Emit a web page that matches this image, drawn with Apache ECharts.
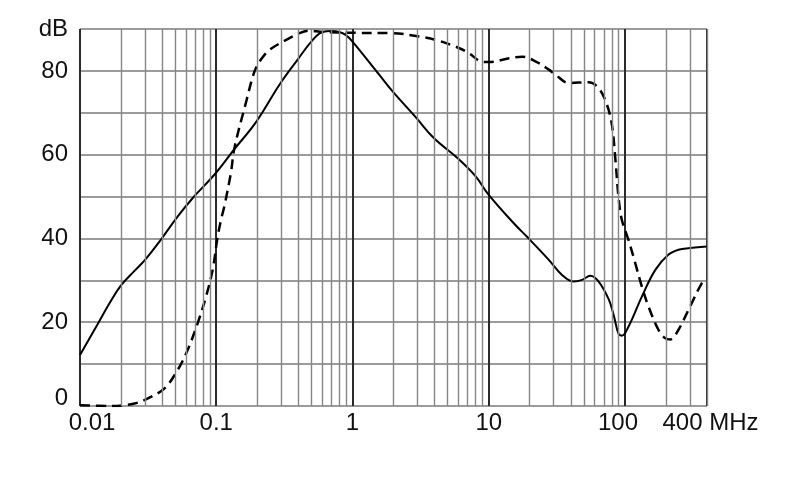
<!DOCTYPE html>
<html>
<head>
<meta charset="utf-8">
<script src="https://cdn.jsdelivr.net/npm/echarts@6/dist/echarts.min.js"></script>
<style>
html,body{margin:0;padding:0;background:#fff;}
#chart{width:790px;height:499px;}
</style>
</head>
<body>
<div id="chart"></div>
<script>
// Frequency (MHz) / level (dB)
const solidFreq = [0.01, 0.0135, 0.0165, 0.02, 0.025, 0.03, 0.0394, 0.052, 0.067, 0.0968, 0.135, 0.197, 0.291, 0.396, 0.511, 0.604, 0.70, 0.80, 0.89, 1.0, 1.57, 1.97, 2.92, 3.97, 5.89, 8.02, 10, 15.7, 19.1, 27.6, 34.5, 42.1, 48.4, 55.7, 64.1, 75.9, 82.6, 89.8, 95, 106, 133, 167, 208, 247, 300, 400];
const solidDb   = [12.2, 19.6, 24.6, 28.8, 32.2, 34.9, 39.8, 45.2, 49.6, 55.2, 61.2, 67.9, 76.7, 82.7, 87.4, 89.3, 89.5, 89.3, 88.6, 87.0, 79.1, 75.1, 68.9, 63.9, 59.2, 54.8, 50.4, 43.2, 40.4, 34.9, 31.3, 29.7, 30.1, 31.1, 29.7, 25.5, 21.7, 17.2, 16.8, 18.9, 26.1, 32.5, 36.1, 37.3, 37.7, 38.1];

const dashFreq = [0.01, 0.0169, 0.0251, 0.0315, 0.0417, 0.0521, 0.0617, 0.0731, 0.0841, 0.0941, 0.1024, 0.109, 0.1146, 0.128, 0.136, 0.166, 0.191, 0.213, 0.246, 0.326, 0.408, 0.484, 0.6, 1.0, 2.0, 3.08, 4.09, 5.7, 7.1, 8.7, 10, 14.1, 17.6, 22, 27.6, 30.9, 38.6, 54.1, 64.1, 73.8, 80.2, 84.9, 89.8, 94.9, 106, 119, 133, 149, 176, 197, 215, 247, 292, 366, 400];
const dashDb   = [0.2, 0, 0.6, 1.8, 4.2, 8.6, 13.4, 19.8, 26.1, 32.5, 40.4, 44.8, 47.6, 55.6, 61.6, 72.7, 79.9, 82.7, 85.0, 87.4, 89.0, 89.6, 89.3, 89.1, 89.0, 88.2, 87.4, 85.8, 84.3, 82.3, 82.1, 83.0, 83.4, 82.3, 80.3, 79.1, 77.1, 77.3, 75.9, 71.9, 67.1, 59.2, 49.6, 44.4, 39.7, 34.1, 28.5, 23.7, 18.2, 16.2, 15.9, 18.2, 22.9, 29.3, 30.5];

const xTickValues = [0.01, 0.1, 1, 10, 100, 400];
const xTickLabels = ['0.01', '0.1', '1', '10', '100', '400 MHz'];
const yTickValues = [0, 20, 40, 60, 80, 90];
const yTickLabels = ['0', '20', '40', '60', '80', 'dB'];

// minor logarithmic grid positions (2..9 per decade)
const minorGrid = [];
[0.01, 0.1, 1, 10, 100].forEach(d => {
  for (let k = 2; k <= 9; k++) { const v = +(d * k).toPrecision(3); if (v <= 400) minorGrid.push(v); }
});

const FONT = "'Liberation Sans', Arial, sans-serif";
const chart = echarts.init(document.getElementById('chart'), null, {renderer: 'canvas'});
chart.setOption({
  animation: false,
  backgroundColor: '#fff',
  grid: {left: 80, right: 83, top: 29, bottom: 93},
  xAxis: {
    type: 'log', logBase: 10, min: 0.01, max: 400,
    axisLine: {show: false}, axisTick: {show: false},
    splitLine: {show: true, lineStyle: {color: '#2a2a2a', width: 2}},
    axisLabel: {
      customValues: xTickValues,
      showMinLabel: true, showMaxLabel: true, hideOverlap: false,
      margin: 5, fontSize: 24, color: '#111', fontFamily: FONT,
      formatter: function (v) {
        const i = xTickValues.findIndex(t => Math.abs(t - v) / t < 1e-6);
        const s = i >= 0 ? xTickLabels[i] : '';
        if (i === 0) return '{l|' + s + '}';
        if (i === 4) return '{r|' + s + '}';
        if (i === 5) return '{m|' + s + '}';
        return s;
      },
      rich: {
        l: {fontSize: 24, color: '#111', fontFamily: FONT, padding: [0, 0, 0, 24]},
        r: {fontSize: 24, color: '#111', fontFamily: FONT, padding: [0, 14, 0, 0]},
        m: {fontSize: 24, color: '#111', fontFamily: FONT, padding: [0, 0, 0, 7]}
      }
    }
  },
  yAxis: {
    type: 'value', min: 0, max: 90, interval: 10,
    axisLine: {show: false}, axisTick: {show: false},
    splitLine: {show: true, lineStyle: {color: '#7a7a7a', width: 1.5}},
    axisLabel: {
      margin: 12, fontSize: 24, color: '#111', fontFamily: FONT,
      formatter: function (v) {
        const i = yTickValues.indexOf(v);
        if (i < 0) return '';
        if (i === 0) return '{z|' + yTickLabels[i] + '}';
        return yTickLabels[i];
      },
      rich: {z: {fontSize: 24, color: '#111', fontFamily: FONT, padding: [0, 0, 16, 0]}}
    }
  },
  series: [
    {
      type: 'line', data: [], z: 1, silent: true,
      markLine: {
        silent: true, symbol: ['none', 'none'], label: {show: false},
        lineStyle: {color: '#858585', width: 1.4, type: 'solid'},
        emphasis: {disabled: true},
        data: minorGrid.map(v => ({xAxis: v}))
      }
    },
    {
      name: 'solid', type: 'line', z: 3, smooth: 0.4, showSymbol: false,
      lineStyle: {color: '#000', width: 2},
      data: solidFreq.map((f, i) => [f, solidDb[i]])
    },
    {
      name: 'dashed', type: 'line', z: 3, smooth: 0.35, showSymbol: false,
      lineStyle: {color: '#000', width: 2.5, type: [10, 6]},
      data: dashFreq.map((f, i) => [f, dashDb[i]])
    }
  ]
});
</script>
</body>
</html>
